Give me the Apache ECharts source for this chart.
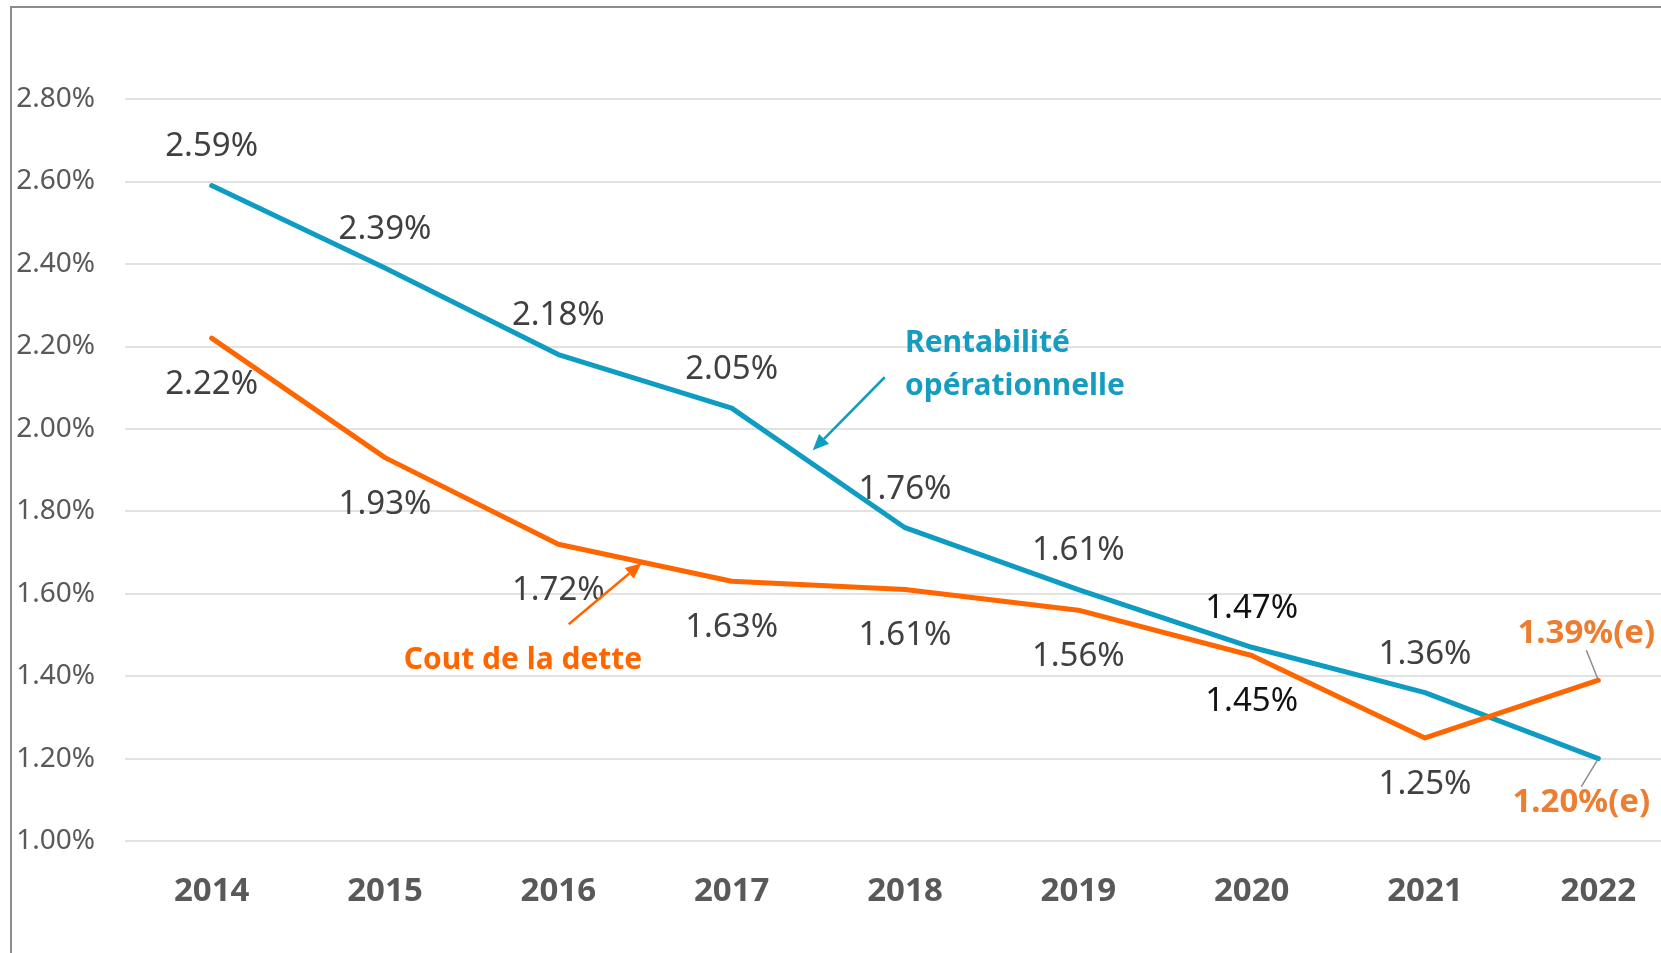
<!DOCTYPE html>
<html>
<head>
<meta charset="utf-8">
<style>
  html, body { margin: 0; padding: 0; background: #fff; }
  #main { width: 1661px; height: 953px; }
</style>
<script src="https://cdn.jsdelivr.net/npm/echarts@6/dist/echarts.min.js"></script>
</head>
<body>
<div id="main"></div>
<script>
// --- data ---
const years = ['2014', '2015', '2016', '2017', '2018', '2019', '2020', '2021', '2022'];
const rentabilite = [2.59, 2.39, 2.18, 2.05, 1.76, 1.61, 1.47, 1.36, 1.20];
const coutDette = [2.22, 1.93, 1.72, 1.63, 1.61, 1.56, 1.45, 1.25, 1.39];
const yMin = 1.0, yMax = 2.8, yStep = 0.2;
const estimatedIndex = 8;      // 2022 is an estimate "(e)"
const darkLabelIndex = 6;      // 2020 labels are black in the source

// annotation anchors in data space: [category index (fractional), value]
const blueNoteAt = [4.0, 2.156];
const blueArrow = [[3.883, 2.125], [3.468, 1.948]];
const orangeNoteAt = [1.108, 1.438];
const orangeArrow = [[2.06, 1.526], [2.48, 1.674]];

const BLUE = '#0e9cc3';
const BLUE_TXT = '#159cc1';
const ORANGE = '#ff6600';
const EST = '#ed7d31';
const FONT = '"Noto Sans", sans-serif';

const fmt = v => v.toFixed(2) + '%';

function buildData(vals) {
  return vals.map((v, i) => {
    const item = { value: v };
    if (i === estimatedIndex) {
      item.label = { color: EST, fontWeight: 'bold' };
      item.labelLine = { show: true };
    } else if (i === darkLabelIndex) {
      item.label = { color: '#111' };
    }
    return item;
  });
}

function seriesOf(name, vals, color, pos, estPos, dist, estDist, shift) {
  const data = buildData(vals);
  data[estimatedIndex].label.position = estPos;
  data[estimatedIndex].label.distance = estDist;
  return {
    name: name,
    type: 'line',
    data: data,
    symbol: 'circle',
    symbolSize: 2,
    itemStyle: { color: color },
    lineStyle: { color: color, width: 5, cap: 'round', join: 'round' },
    label: {
      show: true,
      position: pos,
      distance: dist,
      fontFamily: FONT,
      fontSize: 33,
      lineHeight: 33,
      color: '#404040',
      formatter: p => fmt(p.value) + (p.dataIndex === estimatedIndex ? '(e)' : '')
    },
    labelLine: { show: false, lineStyle: { color: '#8c8c8c', width: 1.5 } },
    labelLayout: p => (p.dataIndex === estimatedIndex ? shift : {}),
    emphasis: { disabled: true },
    animation: false
  };
}

const chart = echarts.init(document.getElementById('main'));
chart.setOption({
  backgroundColor: '#fff',
  animation: false,
  grid: { left: 125, top: 99, width: 1560, height: 742, outerBoundsMode: 'none', containLabel: false },
  xAxis: {
    type: 'category',
    data: years,
    boundaryGap: true,
    axisLine: { show: false },
    axisTick: { show: false },
    axisLabel: { margin: 34, fontFamily: FONT, fontSize: 33, fontWeight: 'bold', color: '#595959' }
  },
  yAxis: {
    type: 'value',
    min: yMin,
    max: yMax,
    interval: yStep,
    axisLine: { show: false },
    axisTick: { show: false },
    axisLabel: { margin: 30, fontFamily: FONT, fontSize: 28, color: '#595959', formatter: fmt, padding: [4, 0, 0, 0] },
    splitLine: { lineStyle: { color: '#d9d9d9', width: 1.5 } }
  },
  series: [
    seriesOf('Rentabilité opérationnelle', rentabilite, BLUE, 'top', 'bottom', 21, 23, { dx: -17, dy: 4 }),
    seriesOf('Cout de la dette', coutDette, ORANGE, 'bottom', 'top', 29, 21, { dx: -12, dy: -8 })
  ]
});

// fractional category positions -> pixels, through the chart's own axes
function toPx(pt) {
  const i = Math.floor(pt[0]), f = pt[0] - i;
  const a = chart.convertToPixel({ gridIndex: 0 }, [i, pt[1]]);
  const b = chart.convertToPixel({ gridIndex: 0 }, [i + 1, pt[1]]);
  return [a[0] + (b[0] - a[0]) * f, a[1]];
}

function arrow(pts, color) {
  const s = toPx(pts[0]), t = toPx(pts[1]);
  const dx = t[0] - s[0], dy = t[1] - s[1];
  const len = Math.sqrt(dx * dx + dy * dy);
  const ux = dx / len, uy = dy / len;
  const bx = t[0] - ux * 16, by = t[1] - uy * 16;
  const nx = -uy * 7, ny = ux * 7;
  return [
    { type: 'line', shape: { x1: s[0], y1: s[1], x2: bx, y2: by }, style: { stroke: color, lineWidth: 2.5 }, z: 10 },
    { type: 'polygon', shape: { points: [t, [bx + nx, by + ny], [bx - nx, by - ny]] }, style: { fill: color }, z: 10 }
  ];
}

function note(text, at, color) {
  const p = toPx(at);
  return {
    type: 'text', x: p[0], y: p[1], z: 10,
    style: { text: text, fill: color, font: 'bold 30px ' + FONT, lineHeight: 43, verticalAlign: 'middle', align: 'left' }
  };
}

chart.setOption({
  graphic: [
    { type: 'rect', shape: { x: 11, y: 7, width: 1700, height: 1000 }, style: { fill: 'none', stroke: '#8c8c8c', lineWidth: 2 }, z: 0 },
    note('Rentabilité\nopérationnelle', blueNoteAt, BLUE_TXT),
    note('Cout de la dette', orangeNoteAt, ORANGE)
  ].concat(arrow(blueArrow, BLUE), arrow(orangeArrow, ORANGE))
});
</script>
</body>
</html>
